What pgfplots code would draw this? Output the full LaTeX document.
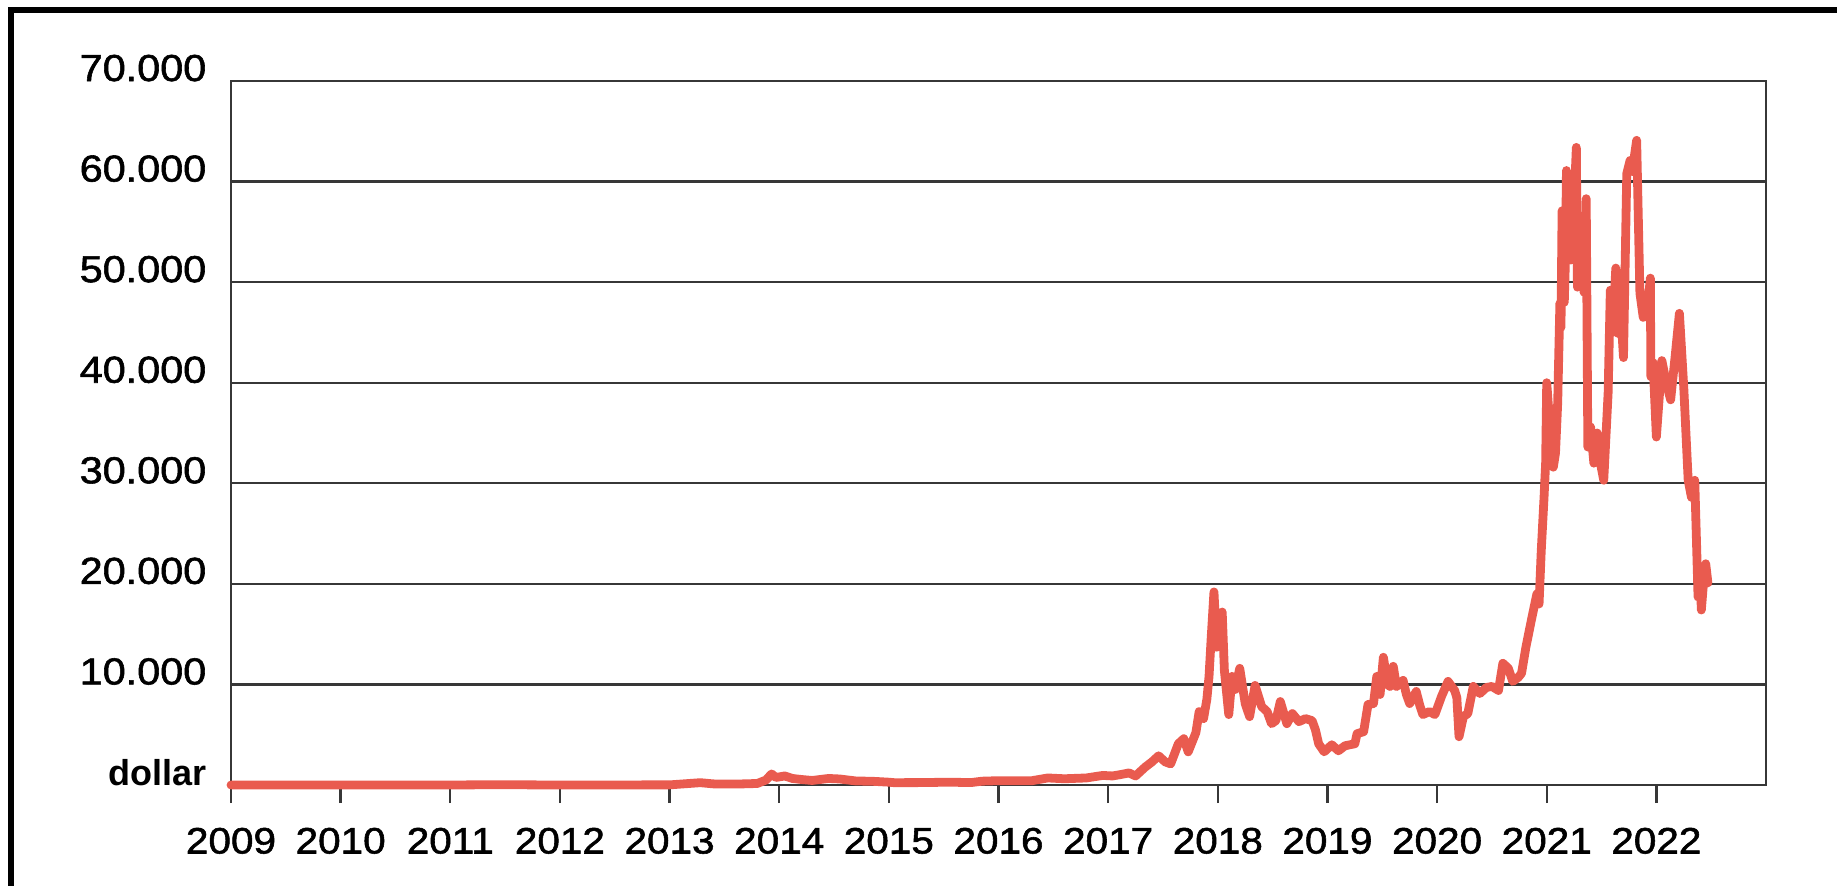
\documentclass[border=0pt]{standalone}
\usepackage{fontspec}
\setmainfont{Liberation Sans}
\newfontfamily\tickfont{Liberation Sans}[FakeStretch=1.1, FakeBold=1.5]
\newfontfamily\dollarfont{Liberation Sans}
\usepackage{pgfplots}
\pgfplotsset{compat=1.18}
\usepackage{pgfplotstable}
\definecolor{btcred}{RGB}{233,91,79}
\definecolor{gridgray}{RGB}{55,55,55}

\pgfplotstableread{
year price
2009.00 0
2010.50 0.07
2011.00 0.3
2011.45 30
2011.90 3
2012.50 7
2013.00 13
2013.28 230
2013.40 110
2013.60 90
2013.80 150
2013.88 500
2013.93 1100
2013.97 750
2014.05 900
2014.12 650
2014.20 550
2014.30 450
2014.45 650
2014.55 600
2014.70 400
2014.85 370
2015.00 280
2015.05 230
2015.30 240
2015.55 280
2015.75 240
2015.85 380
2016.00 430
2016.30 420
2016.45 700
2016.60 620
2016.80 700
2016.95 950
2017.04 900
2017.12 1050
2017.19 1200
2017.25 900
2017.34 1800
2017.40 2300
2017.46 2900
2017.52 2300
2017.57 2100
2017.64 4100
2017.69 4600
2017.73 3300
2017.80 5200
2017.83 7300
2017.87 6600
2017.90 8500
2017.92 10800
2017.94 14700
2017.965 19200
2017.99 13700
2018.02 14500
2018.04 17200
2018.06 11400
2018.10 7000
2018.13 10800
2018.16 9500
2018.20 11600
2018.25 8100
2018.29 6800
2018.34 9900
2018.40 7800
2018.45 7300
2018.49 6100
2018.53 6400
2018.57 8300
2018.63 6100
2018.68 7100
2018.74 6300
2018.80 6600
2018.86 6400
2018.89 5500
2018.92 4100
2018.97 3300
2019.04 4000
2019.10 3400
2019.16 3900
2019.25 4100
2019.27 5100
2019.33 5300
2019.37 8000
2019.42 8100
2019.45 10800
2019.48 9000
2019.51 12700
2019.55 10000
2019.57 9800
2019.60 11800
2019.63 9800
2019.69 10400
2019.72 9000
2019.75 8100
2019.81 9300
2019.84 8000
2019.87 7000
2019.93 7300
2019.98 7000
2020.04 8800
2020.10 10300
2020.16 9400
2020.18 8700
2020.20 4800
2020.24 6800
2020.28 7100
2020.33 9800
2020.39 9100
2020.45 9700
2020.50 9800
2020.56 9400
2020.60 12100
2020.65 11600
2020.69 10300
2020.74 10700
2020.77 11100
2020.81 13700
2020.86 16400
2020.91 19000
2020.93 18000
2020.95 23300
2020.975 28500
2020.99 32000
2021.00 40000
2021.04 34000
2021.06 31600
2021.08 33000
2021.10 38000
2021.12 47900
2021.13 45500
2021.14 57100
2021.16 48000
2021.17 52000
2021.18 61100
2021.20 55000
2021.22 52200
2021.25 58000
2021.27 63400
2021.28 49500
2021.31 53000
2021.34 49000
2021.36 58300
2021.375 33600
2021.40 35600
2021.43 32000
2021.46 35000
2021.49 32000
2021.52 30300
2021.56 39000
2021.58 49200
2021.60 45000
2021.63 51400
2021.65 44900
2021.67 48000
2021.70 42500
2021.73 60800
2021.76 62100
2021.78 61000
2021.82 64100
2021.85 48900
2021.88 46500
2021.92 47500
2021.945 50400
2021.95 40600
2021.97 42000
2022.00 34600
2022.05 42200
2022.09 40000
2022.13 38300
2022.17 42500
2022.21 46900
2022.25 39500
2022.29 30300
2022.32 28600
2022.35 30300
2022.38 18700
2022.40 20500
2022.41 17400
2022.43 20100
2022.45 22000
2022.47 20100
}\btcdata

\begin{document}
\begin{tikzpicture}
\useasboundingbox (-57.75pt,-25.25pt) rectangle (401.5pt,196.25pt);
\draw[line width=1.5pt, black, line join=miter] (-54.9pt,-26pt) -- (-54.9pt,193.75pt) -- (402pt,193.75pt);
\begin{axis}[
  at={(0pt,0pt)}, anchor=south west,
  scale only axis, width=383.75pt, height=176pt,
  xmin=2009, xmax=2023, ymin=0, ymax=70000,
  clip=false,
  xtick={2009,2010,2011,2012,2013,2014,2015,2016,2017,2018,2019,2020,2021,2022},
  xticklabels={2009,2010,2011,2012,2013,2014,2015,2016,2017,2018,2019,2020,2021,2022},
  ytick={0,10000,20000,30000,40000,50000,60000,70000},
  yticklabels={{\dollarfont\bfseries\fontsize{9}{10}\selectfont dollar},10.000,20.000,30.000,40.000,50.000,60.000,70.000},
  xtick pos=bottom,
  tick align=outside,
  major tick length=4.5pt,
  xtick style={gridgray, line width=0.6pt},
  ytick style={draw=none},
  axis line style={gridgray, line width=0.6pt},
  ymajorgrids,
  major grid style={gridgray, line width=0.6pt},
  xticklabel style={anchor=north, inner sep=0pt, yshift=-6pt, font=\tickfont\fontsize{9.2}{10}\selectfont},
  yticklabel style={anchor=base east, inner sep=0pt, xshift=-1.5pt, font=\tickfont\fontsize{9.4}{11}\selectfont},
  scaled y ticks=false,
]
\addplot[btcred, line width=2.2pt, line join=round, line cap=round] table[x=year, y=price] {\btcdata};
\end{axis}
\end{tikzpicture}
\end{document}
